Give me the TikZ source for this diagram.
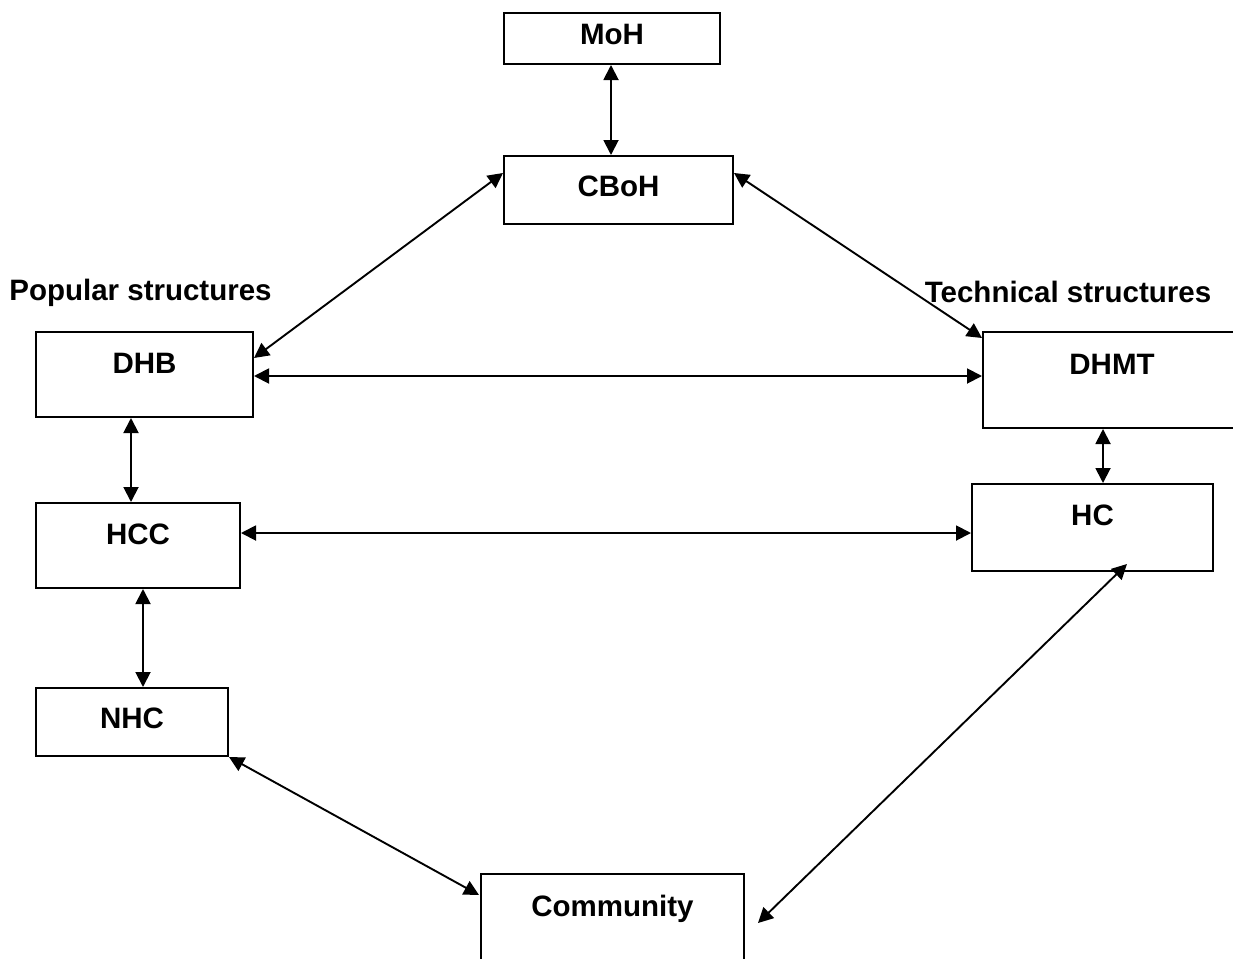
\documentclass[tikz,border=0pt]{standalone}
\usepackage{fontspec}
\setmainfont{Liberation Sans}
\usetikzlibrary{arrows.meta,calc}
\begin{document}
\begin{tikzpicture}[x=1pt,y=-1pt,
  box/.style={draw,line width=2pt,inner sep=0pt,anchor=north west,align=center},
  lab/.style={inner sep=0pt,anchor=center},
  link/.style={line width=1.9pt,{Triangle[length=15pt,width=15pt]}-{Triangle[length=15pt,width=15pt]}},
  every node/.style={font=\bfseries\fontsize{29.5}{34}\selectfont}]
\clip (0,0) rectangle (1233,958);
\fill[white] (0,0) rectangle (1233,958);
% boxes
\node[box,minimum width=216pt,text height=31.4pt,text depth=19.6pt] (moh) at (503,12) {MoH};
\node[box,minimum width=229pt,text height=40.4pt,text depth=27.6pt] (cboh) at (503,155) {CBoH};
\node[box,minimum width=217pt,text height=41.4pt,text depth=43.6pt] (dhb) at (35,331) {DHB};
\node[box,minimum width=258pt,text height=42.4pt,text depth=53.6pt] (dhmt) at (982,331) {DHMT};
\node[box,minimum width=204pt,text height=41.4pt,text depth=43.6pt] (hcc) at (35,502) {HCC};
\node[box,minimum width=241pt,text height=41.4pt,text depth=45.6pt] (hc) at (971,483) {HC};
\node[box,minimum width=192pt,text height=40.4pt,text depth=27.6pt] (nhc) at (35,687) {NHC};
\node[box,minimum width=263pt,text height=42.4pt,text depth=47.6pt] (comm) at (480,873) {Community};
% labels
\node[lab] (pop) at (140.5,293) {Popular structures};
\node[lab] (tech) at (1068,292) {Technical structures};
% connectors
\draw[link] (moh.south -| 611,0) -- (cboh.north -| 611,0);
\draw[link] ($(cboh.north west)+(0,18)$) -- ($(dhb.north east)+(0,27)$);
\draw[link] ($(cboh.north east)+(0,18)$) -- ($(dhmt.north west)+(0,7)$);
\draw[link] ($(dhb.north east)+(0,45)$) -- ($(dhmt.north west)+(0,45)$);
\draw[link] ($(dhb.south west)+(96,0)$) -- ($(hcc.north west)+(96,0)$);
\draw[link] ($(dhmt.south west)+(121,0)$) -- ($(hc.north west)+(132,0)$);
\draw[link] ($(hcc.north east)+(0,31)$) -- ($(hc.north west)+(0,50)$);
\draw[link] ($(hcc.south west)+(108,0)$) -- ($(nhc.north west)+(108,0)$);
\draw[link] (nhc.south east) -- ($(comm.north west)+(-1,22)$);
\draw[link] ($(hc.south west)+(156,-8)$) -- ($(comm.north east)+(13,50)$);
\end{tikzpicture}
\end{document}
